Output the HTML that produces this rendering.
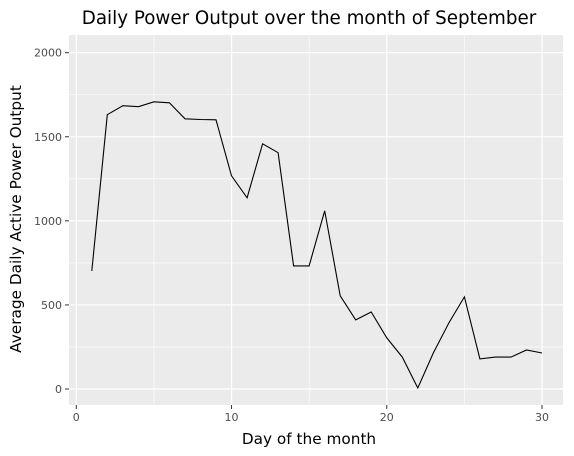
<!DOCTYPE html>
<html><head><meta charset="utf-8"><style>
body{margin:0;background:#fff;}
svg{display:block;font-family:"DejaVu Sans","Liberation Sans",sans-serif;}
</style></head><body>
<svg id="chart" width="574" height="456">
<text x="309" y="24" text-anchor="middle" font-size="18.3" fill="#000">Daily Power Output over the month of September</text>
<rect x="69" y="35" width="494" height="370" fill="#ebebeb"/>
<g id="grid"></g>
<g id="axes"></g>
<path id="line" fill="none" stroke="#000" stroke-width="1.1"/>
<text x="309" y="444" text-anchor="middle" font-size="15.3" fill="#000">Day of the month</text>
<text transform="translate(21,219) rotate(-90)" text-anchor="middle" font-size="15.3" fill="#000">Average Daily Active Power Output</text>
</svg>
<script>
const days = [1,2,3,4,5,6,7,8,9,10,11,12,13,14,15,16,17,18,19,20,21,22,23,24,25,26,27,28,29,30];
const power = [702,1631,1685,1679,1708,1702,1607,1603,1601,1268,1137,1458,1405,732,732,1060,554,411,458,304,190,6,214,393,548,179,190,190,232,214];
const xTicks = [0,10,20,30];
const yTicks = [0,500,1000,1500,2000];
const xMinor = [5,15,25];
const yMinor = [250,750,1250,1750];
const NS="http://www.w3.org/2000/svg";
function sx(v){return 76.3+v*(542-76.3)/30;}
function sy(v){return 389-v*(389-52.7)/2000;}
const grid=document.getElementById('grid'), axes=document.getElementById('axes');
function ln(p,x1,y1,x2,y2,c,w){const l=document.createElementNS(NS,'line');l.setAttribute('x1',x1);l.setAttribute('y1',y1);l.setAttribute('x2',x2);l.setAttribute('y2',y2);l.setAttribute('stroke',c);l.setAttribute('stroke-width',w);p.appendChild(l);return l;}
function tx(p,x,y,s,a){const t=document.createElementNS(NS,'text');t.setAttribute('x',x);t.setAttribute('y',y);t.setAttribute('text-anchor',a);t.setAttribute('font-size','11');t.setAttribute('fill','#4d4d4d');t.textContent=s;p.appendChild(t);return t;}
xMinor.forEach(v=>{const l=ln(grid,sx(v),35,sx(v),405,'#fff',0.6);

});
yMinor.forEach(v=>{const l=ln(grid,69,sy(v),563,sy(v),'#fff',0.6);

});
xTicks.forEach(v=>{const l=ln(grid,sx(v),35,sx(v),405,'#fff',1.2);


ln(axes,sx(v),405,sx(v),409,'#333',1);
const t=tx(axes,sx(v),421,String(v),'middle');

});
yTicks.forEach(v=>{const l=ln(grid,69,sy(v),563,sy(v),'#fff',1.2);


ln(axes,65,sy(v),69,sy(v),'#333',1);
const t=tx(axes,62,sy(v)+4,String(v),'end');

});
document.getElementById('line').setAttribute('d',days.map((d,i)=>(i?'L':'M')+sx(d).toFixed(1)+','+sy(power[i]).toFixed(1)).join(''));
</script>
</body></html>
